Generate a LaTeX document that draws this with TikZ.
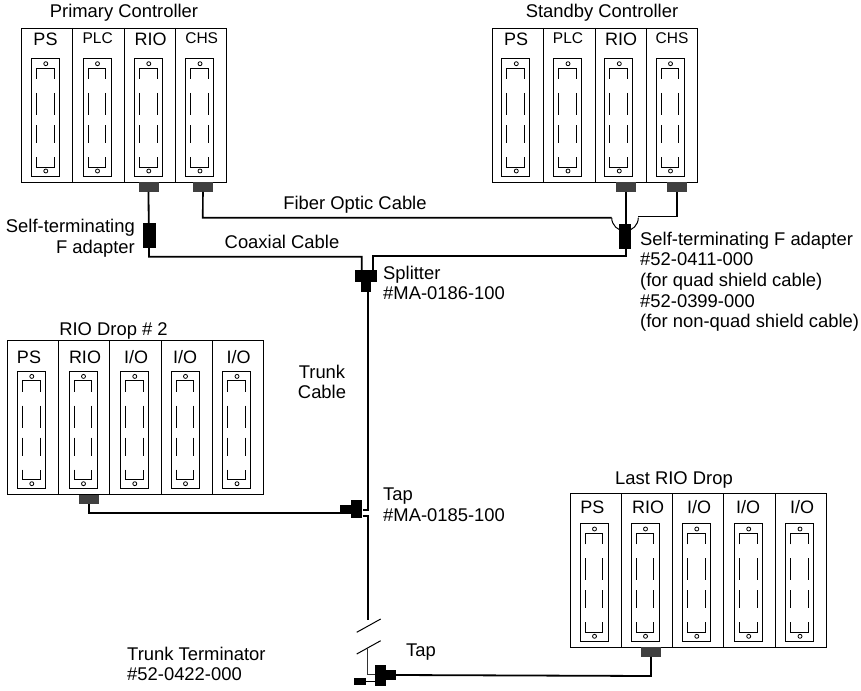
\documentclass[tikz,border=0pt]{standalone}
\usepackage{fontspec}
\setmainfont{Liberation Sans}
\usetikzlibrary{positioning,calc}
\tikzset{
  rackline/.style={draw, line width=0.9pt},
  cardline/.style={draw, line width=0.8pt},
  portbox/.style={draw=none, fill=black!75, minimum width=20pt, minimum height=9.5pt, inner sep=0pt},
  wire/.style={draw, line width=1.8pt},
  fiber/.style={draw, line width=1.6pt},
  thinwire/.style={draw, line width=1pt},
  blackbox/.style={fill=black, inner sep=0pt},
  rotulo/.style={font=\fontsize{18.4pt}{20.7pt}\selectfont, inner sep=0pt, anchor=base},
  slotlabel/.style={font=\fontsize{18pt}{20pt}\selectfont, inner sep=0pt, anchor=base},
  smalllabel/.style={font=\fontsize{15.5pt}{18pt}\selectfont, inner sep=0pt, anchor=base},
  note/.style={font=\fontsize{18.4pt}{20.7pt}\selectfont, inner sep=0pt, align=left, anchor=north west},
}
% one card of a rack; #1 = left edge, #2 = rack top
\newcommand{\RackCard}[2]{
  \draw[cardline] (#1,#2+30.5) rectangle ++(28,117.5);
  \draw[cardline] (#1+5,#2+51) -- (#1+5,#2+40) -- (#1+22.7,#2+40) -- (#1+22.7,#2+51);
  \draw[cardline] (#1+5,#2+65) -- (#1+5,#2+87) (#1+22.7,#2+65) -- (#1+22.7,#2+87);
  \draw[cardline] (#1+5,#2+97) -- (#1+5,#2+115) (#1+22.7,#2+97) -- (#1+22.7,#2+115);
  \draw[cardline] (#1+5,#2+129) -- (#1+5,#2+139) -- (#1+22.7,#2+139) -- (#1+22.7,#2+129);
  \draw[line width=0.8pt] (#1+14.5,#2+35.7) circle (2);
  \draw[line width=0.8pt] (#1+14.5,#2+143) circle (2);
}
\begin{document}
\begin{tikzpicture}[x=1pt,y=-1pt]
  \useasboundingbox (0,0) rectangle (861,690);

  % primary controller
  \draw[rackline] (21.5,28) rectangle (226.5,182);
  \foreach \x in {72.5,124.5,175.5} \draw[rackline] (\x,28) -- (\x,182);
  \foreach \x in {31.3,83,134.3,185.5} \RackCard{\x}{28};
  \node[rotulo] (primary) at (124,17.5) {Primary Controller};
  \node[slotlabel] (ps1) at (45.5,46) {PS};
  \node[smalllabel] (plc1) at (97.7,44) {PLC};
  \node[slotlabel] (rio1) at (150.7,46) {RIO};
  \node[smalllabel] (chs1) at (201.7,44) {CHS};
  \node[portbox] (port1) at (148.5,187) {};
  \node[portbox] (port2) at (203,187) {};

  % standby controller
  \draw[rackline] (492,28) rectangle (697,182);
  \foreach \x in {543,595,646} \draw[rackline] (\x,28) -- (\x,182);
  \foreach \x in {501.8,553.5,604.8,656} \RackCard{\x}{28};
  \node[rotulo] (standby) at (602,17.5) {Standby Controller};
  \node[slotlabel] (ps2) at (516,46) {PS};
  \node[smalllabel] (plc2) at (568,44) {PLC};
  \node[slotlabel] (rio2) at (621,46) {RIO};
  \node[smalllabel] (chs2) at (672,44) {CHS};
  \node[portbox] (port3) at (626,187) {};
  \node[portbox] (port4) at (677,187) {};

  % drop 2
  \draw[rackline] (7.3,340.7) rectangle (263.5,494.5);
  \foreach \x in {58,109.5,161.5,212.5} \draw[rackline] (\x,340.7) -- (\x,494.5);
  \foreach \x in {17.3,69,120.3,171,222.5} \RackCard{\x}{340.7};
  \node[rotulo] (drop2) at (113.5,335) {RIO Drop \# 2};
  \node[slotlabel] (ps3) at (29,363) {PS};
  \node[slotlabel] (rio3) at (85,363) {RIO};
  \node[slotlabel] (io1) at (136,363) {I/O};
  \node[slotlabel] (io2) at (185,363) {I/O};
  \node[slotlabel] (io3) at (238.5,363) {I/O};
  \node[portbox] (port5) at (89,499.5) {};

  % last drop
  \draw[rackline] (570.7,493.3) rectangle (826.7,647.3);
  \foreach \x in {621.7,672.3,723.3,775.7} \draw[rackline] (\x,493.3) -- (\x,647.3);
  \foreach \x in {580,631,682.3,734.2,785.5} \RackCard{\x}{493.3};
  \node[rotulo] (last) at (674,484) {Last RIO Drop};
  \node[slotlabel] (ps4) at (592.3,513.3) {PS};
  \node[slotlabel] (rio4) at (648,513.3) {RIO};
  \node[slotlabel] (io4) at (699,513.3) {I/O};
  \node[slotlabel] (io5) at (748,513.3) {I/O};
  \node[slotlabel] (io6) at (802,513.3) {I/O};
  \node[portbox] (port6) at (651,652) {};

  % adapters, splitter, taps
  \node[blackbox, minimum width=12.5pt, minimum height=24.5pt] (adapter1) at (149.7,235.5) {};
  \node[blackbox, minimum width=11.7pt, minimum height=25pt] (adapter2) at (624.8,236.8) {};
  \node[blackbox, minimum width=21.7pt, minimum height=11.7pt] (splitter) at (365.8,275.8) {};
  \node[blackbox, minimum width=10pt, minimum height=10pt] (splitterb) at (365.7,286.7) {};
  \node[blackbox, minimum width=21.7pt, minimum height=9pt] (tap1) at (351,509.5) {};
  \node[blackbox, minimum width=11.6pt, minimum height=18pt] (tap1b) at (356.5,509) {};
  \node[blackbox, minimum width=11pt, minimum height=21pt] (tap2) at (380.5,675.5) {};
  \node[blackbox, minimum width=10pt, minimum height=10pt] (tap2b) at (391,675) {};
  \node[blackbox, minimum width=11.7pt, minimum height=6.7pt] (term) at (360.2,681.7) {};

  % named corners of the cables
  \coordinate (c1) at (149,256.7);
  \coordinate (c2) at (361.7,256.7);
  \coordinate (c3) at (626,256);
  \coordinate (c4) at (373.3,256);
  \coordinate (c5) at (368,510);
  \coordinate (c6) at (368,516);
  \coordinate (c7) at (368,620);
  \coordinate (f1) at (202.7,217.7);
  \coordinate (f2) at (611.7,217.7);
  \coordinate (f3) at (638.3,216.5);
  \coordinate (f4) at (677,216.5);
  \coordinate (b1) at (356.7,632.3);
  \coordinate (b2) at (380.7,619);
  \coordinate (b3) at (356.7,654);
  \coordinate (b4) at (380.7,640.7);
  \coordinate (b5) at (367.7,647.5);
  \coordinate (b6) at (367.7,674);

  % coaxial and trunk
  \draw[wire] (port1.south) -- (c1) -- (c2) -- (c2 |- splitter.north);
  \draw[wire] (port3.south) -- (c3) -- (c4) -- (c4 |- splitter.north);
  \draw[wire] (splitterb.south -| c5) -- (c5) -- (c5 -| tap1b.east);
  \draw[wire] (port5.south) -- (89,512.7) -- (tap1.west |- 0,512.7);
  \draw[wire] (c6 -| tap1b.east) -- (c6) -- (c7);
  \draw[thinwire] (b1) -- (b2);
  \draw[thinwire] (b3) -- (b4);
  \draw[thinwire, black!80] (b5) -- (b6) -- (tap2.west |- b6);
  \draw[thinwire] (term.east) -- (tap2.west |- term.east);
  \draw[wire] (tap2b.east) -- (651,676) -- (port6.south);

  % fiber
  \draw[fiber] (port2.south) -- (f1) -- (f2);
  \draw[thinwire] (f2) arc[start angle=180, end angle=0, radius=13.3];
  \draw[fiber] (f3) -- (f4) -- (port4.south);

  % labels
  \node[note, align=right, anchor=north east] (adapterl) at (135,219) {Self-terminating\\F adapter};
  \node[rotulo] (fiberl) at (355,209) {Fiber Optic Cable};
  \node[rotulo] (coaxl) at (282,248) {Coaxial Cable};
  \node[note] (adapterr) at (640,231.5) {Self-terminating F adapter\\\#52-0411-000\\(for quad shield cable)\\\#52-0399-000\\(for non-quad shield cable)};
  \node[note] (splitl) at (383,265.5) {Splitter\\\#MA-0186-100};
  \node[note, align=center, anchor=north] (trunkl) at (322,364.5) {Trunk\\Cable};
  \node[note] (tapl) at (383,488) {Tap\\\#MA-0185-100};
  \node[rotulo] (tapm) at (421,656.7) {Tap};
  \node[note] (terml) at (127,646.5) {Trunk Terminator\\\#52-0422-000};
\end{tikzpicture}
\end{document}
